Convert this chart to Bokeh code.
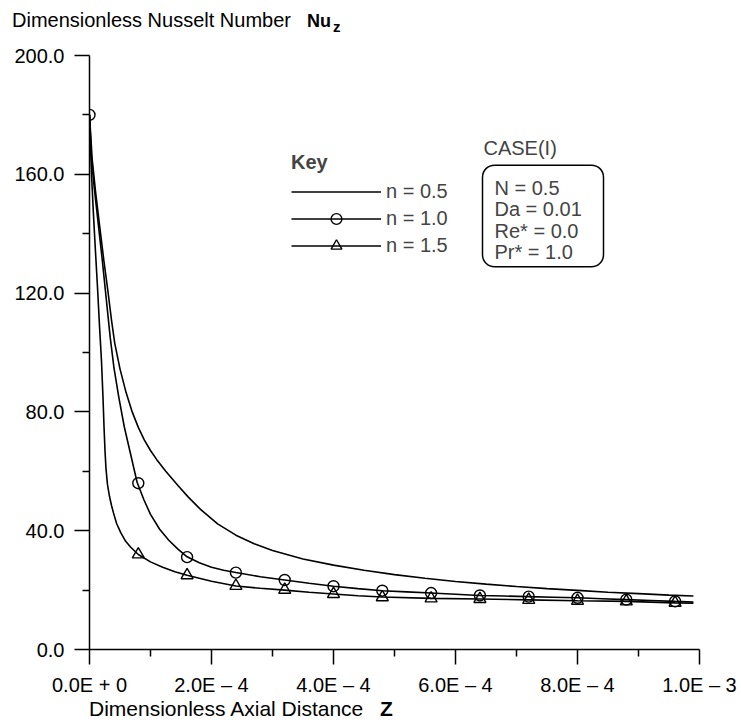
from bokeh.plotting import figure
from bokeh.layouts import column
from bokeh.models import (Range1d, FixedTicker, Label, BoxAnnotation, Legend,
                          LegendItem, Div)
from bokeh.embed import file_html
from bokeh.resources import INLINE

FONT = "Liberation Sans"
TXT = "20px"

# ---------------- data (Z in units of 1e-4) ----------------
Z_UNIT = 1e-4

z_n05 = [0.0, 0.044, 0.1, 0.17, 0.235, 0.3, 0.36, 0.415, 0.5, 0.6, 0.7, 0.8, 0.9,
         1.0, 1.1, 1.25, 1.45, 1.62, 1.82, 2.1, 2.4, 2.7, 3.0, 3.5, 4.0, 4.5, 5.0, 5.5,
         6.0, 6.5, 7.0, 7.5, 8.0, 8.5, 9.0, 9.5, 9.9]
nu_n05 = [180, 165, 154, 142, 131, 121, 111, 103, 94.5, 86.5, 80, 74.8, 70.5,
          67, 64, 60, 55.2, 51.3, 47.2, 42.3, 38.5, 35.6, 33.3, 30.5, 28.4, 26.7, 25.2, 24.0,
          22.9, 22.0, 21.2, 20.5, 19.9, 19.3, 18.8, 18.3, 18.0]

z_n10 = [0.0, 0.03, 0.08, 0.14, 0.21, 0.27, 0.34, 0.4, 0.48, 0.57, 0.66, 0.78, 0.89,
         1.0, 1.15, 1.3, 1.45, 1.6, 1.8, 2.0, 2.2, 2.4, 2.8, 3.2, 3.6, 4.0, 4.4, 4.8,
         5.2, 5.6, 6.0, 6.4, 6.8, 7.2, 7.6, 8.0, 8.4, 8.8, 9.2, 9.6, 9.9]
nu_n10 = [180, 166, 155, 144, 131, 119, 105, 95, 85, 75, 67, 56.3, 50.5,
          45.5, 40.5, 36.8, 33.8, 31.2, 29.2, 27.7, 26.7, 25.9, 24.5, 23.4, 22.3, 21.3, 20.5, 19.8,
          19.4, 19.0, 18.6, 18.2, 18.0, 17.8, 17.6, 17.4, 17.1, 16.8, 16.5, 16.2, 16.0]

z_n15 = [0.0, 0.033, 0.066, 0.098, 0.131, 0.164, 0.197, 0.221, 0.238, 0.254, 0.27,
         0.295, 0.328, 0.361, 0.393, 0.443, 0.508, 0.59, 0.672, 0.8, 1.0, 1.2, 1.4,
         1.6, 2.0, 2.4, 2.8, 3.2, 3.6, 4.0, 4.4, 4.8, 5.6, 6.4, 7.2, 8.0, 8.8, 9.6, 9.9]
nu_n15 = [180, 160, 146, 134, 122, 109, 97, 85, 75, 67, 61,
          55.5, 51.5, 48.5, 46, 42.5, 39.5, 36.5, 34.5, 32, 29.5, 27.7, 26.2,
          25, 23, 21.4, 20.6, 20.0, 19.3, 18.7, 18.1, 17.7, 17.2, 17.0, 16.7, 16.4, 16.2, 15.7, 15.6]

# marker points
zm = [0.8, 1.6, 2.4, 3.2, 4.0, 4.8, 5.6, 6.4, 7.2, 8.0, 8.8, 9.6]
nu_m10 = [56, 31.1, 25.9, 23.4, 21.3, 19.8, 19.0, 18.2, 17.8, 17.4, 16.8, 16.2]
nu_m15 = [32, 25, 21.4, 20.1, 18.7, 17.6, 17.2, 17.0, 16.7, 16.4, 16.2, 15.7]

x_ticks = [0.0, 0.0002, 0.0004, 0.0006, 0.0008, 0.001]
x_minor = [0.0001, 0.0003, 0.0005, 0.0007, 0.0009]
x_tick_labels = ["0.0E + 0", "2.0E \u2013 4", "4.0E \u2013 4", "6.0E \u2013 4",
                 "8.0E \u2013 4", "1.0E \u2013 3"]
y_ticks = [0, 40, 80, 120, 160, 200]
y_minor = [20, 60, 100, 140, 180]
y_tick_labels = ["0.0", "40.0", "80.0", "120.0", "160.0", "200.0"]

series_labels = ["n = 0.5", "n = 1.0", "n = 1.5"]
case_title = "CASE(I)"
case_lines = ["N = 0.5", "Da = 0.01", "Re* = 0.0", "Pr* = 1.0"]


def zs(lst):
    return [v * Z_UNIT for v in lst]


# ---------------- layout geometry (page pixels) ----------------
PW = 741
TOP_H = 40          # header div height
FIG_H = 658         # figure height
BOT_H = 22          # footer div height
FL, FR, FT, FB = 89, 699, 55, 651   # frame edges in page pixels

p = figure(width=PW, height=FIG_H, x_range=Range1d(0, 1e-3), y_range=Range1d(0, 200),
           output_backend="svg", toolbar_location=None,
           min_border_left=FL, min_border_right=PW - FR,
           min_border_top=FT - TOP_H, min_border_bottom=TOP_H + FIG_H - FB)
p.grid.visible = False
p.outline_line_color = None
p.background_fill_color = "white"
p.border_fill_color = "white"


def dx(px):
    return (px - FL) / (FR - FL) * 1e-3


def dy(py):
    return (FB - py) / (FB - FT) * 200


for ax, ticks, minor, labels in ((p.xaxis[0], x_ticks, x_minor, x_tick_labels),
                                 (p.yaxis[0], y_ticks, y_minor, y_tick_labels)):
    ax.ticker = FixedTicker(ticks=ticks, minor_ticks=minor)
    ax.major_label_overrides = {t: l for t, l in zip(ticks, labels)}
    ax.axis_line_width = 1.5
    ax.axis_line_color = "black"
    ax.major_tick_line_width = 1.5
    ax.minor_tick_line_width = 1.5
    ax.major_tick_line_color = "black"
    ax.minor_tick_line_color = "black"
    ax.major_tick_in = 0
    ax.minor_tick_in = 0
    ax.major_tick_out = 15
    ax.minor_tick_out = 7
    ax.major_label_text_font = FONT
    ax.major_label_text_font_size = TXT
    ax.major_label_text_color = "black"

p.xaxis[0].major_label_standoff = 9
p.yaxis[0].major_label_standoff = 10

LW = 1.6
l1 = p.line(zs(z_n05), nu_n05, line_color="black", line_width=LW)
l2 = p.line(zs(z_n10), nu_n10, line_color="black", line_width=LW)
l3 = p.line(zs(z_n15), nu_n15, line_color="black", line_width=LW)
s2 = p.scatter(zs(zm), nu_m10, marker="circle", size=11, fill_color=None,
               line_color="black", line_width=1.4)
s3 = p.scatter(zs(zm), nu_m15, marker="triangle", size=12, fill_color=None,
               line_color="black", line_width=1.4)
# starting point marker
p.scatter([0.0], [nu_n10[0]], marker="circle", size=11, fill_color=None,
          line_color="black", line_width=1.4)

legend = Legend(items=[LegendItem(label=series_labels[0], renderers=[l1]),
                       LegendItem(label=series_labels[1], renderers=[l2, s2]),
                       LegendItem(label=series_labels[2], renderers=[l3, s3])],
                location=(202, 390), title="Key",
                title_text_font=FONT, title_text_font_size=TXT,
                title_text_font_style="bold", title_standoff=4,
                label_text_font=FONT, label_text_font_size=TXT,
                glyph_width=90, glyph_height=27, label_height=20, spacing=0,
                padding=0, margin=0, label_standoff=5,
                border_line_color=None, background_fill_alpha=0)
p.add_layout(legend)

# case box
p.add_layout(BoxAnnotation(left=dx(482), right=dx(603), top=dy(165), bottom=dy(267),
                           fill_alpha=0, line_color="black", line_alpha=1.0,
                           line_width=1.5, border_radius=12))
p.add_layout(Label(x=dx(483), y=dy(148), text=case_title, text_font=FONT,
                   text_font_size=TXT, text_baseline="middle"))
for t, cy in zip(case_lines, [188, 209.5, 231, 252.5]):
    p.add_layout(Label(x=dx(494), y=dy(cy), text=t, text_font=FONT,
                       text_font_size=TXT, text_baseline="middle"))

# axis titles as HTML text above and below the plot
FS = "font-family:'Liberation Sans',Arial,sans-serif;color:black;white-space:nowrap;"
top_html = (
    f'<div style="position:relative;width:{PW}px;height:{TOP_H}px;{FS}">'
    '<span style="position:absolute;left:12px;top:9px;font-size:20px;line-height:22px;">'
    'Dimensionless Nusselt Number</span>'
    '<span style="position:absolute;left:307px;top:10px;font-size:18px;line-height:22px;'
    'font-weight:bold;">Nu</span>'
    '<span style="position:absolute;left:333px;top:18px;font-size:15px;line-height:17px;'
    'font-weight:bold;">z</span></div>')
bot_html = (
    f'<div style="position:relative;width:{PW}px;height:{BOT_H}px;{FS}">'
    '<span style="position:absolute;left:89px;top:0px;font-size:21px;line-height:22px;">'
    'Dimensionless Axial Distance</span>'
    '<span style="position:absolute;left:380px;top:0px;font-size:21px;line-height:22px;'
    'font-weight:bold;">Z</span></div>')

top_div = Div(text=top_html, width=PW, height=TOP_H, margin=0)
bot_div = Div(text=bot_html, width=PW, height=BOT_H, margin=0)

layout = column(top_div, p, bot_div, spacing=0)

open("out.html", "w").write(file_html(layout, INLINE))
